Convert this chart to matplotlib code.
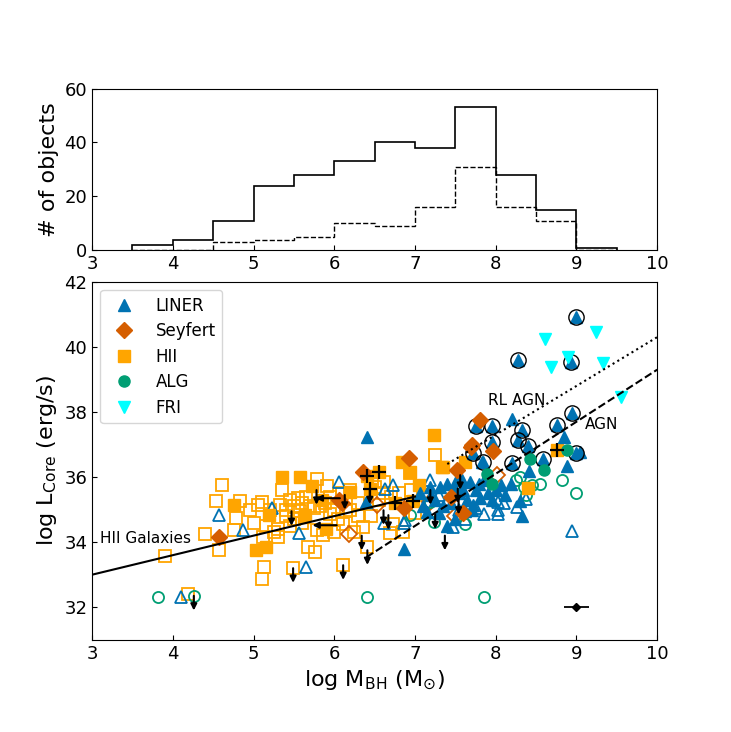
import numpy as np
import matplotlib
matplotlib.use("Agg")
import matplotlib.pyplot as plt

# histogram of black hole masses
bin_edges = [3.5, 4.0, 4.5, 5.0, 5.5, 6.0, 6.5, 7.0, 7.5, 8.0, 8.5, 9.0, 9.5]
n_all = [2, 4, 11, 24, 28, 33, 40, 38, 53, 28, 15, 1]
n_sub = [0, 0, 3, 4, 5, 10, 9, 16, 31, 16, 11, 0]

# LINER
liner_fx = [6.40, 6.86, 6.39, 7.19, 7.31, 7.40, 7.06, 7.15, 7.58, 7.83, 7.79, 8.20, 8.85, 9.05,
            8.88, 8.41, 8.19, 8.06, 8.32, 7.45, 7.55, 7.65, 7.70, 7.35, 7.50, 7.60, 7.25, 7.90,
            7.95, 8.00, 7.75, 7.85, 7.40, 7.10, 7.30, 7.68, 7.52, 8.12, 8.30, 7.48, 7.62, 7.80,
            7.20, 7.72]
liner_fy = [37.24, 33.80, 35.24, 35.70, 35.70, 34.49, 35.50, 34.93, 35.90, 36.47, 35.80, 37.77, 37.24, 36.78,
            36.35, 36.20, 35.80, 35.75, 34.80, 35.20, 35.50, 35.30, 35.00, 35.10, 34.70, 35.60, 35.30, 35.50,
            35.30, 35.60, 35.60, 35.90, 35.80, 35.10, 34.90, 35.85, 35.95, 35.45, 35.25, 35.65, 34.95, 35.35,
            35.45, 35.15]
liner_ox = [4.57, 4.87, 5.23, 5.56, 5.65, 4.10, 6.06, 6.63, 6.73, 6.88, 7.19, 7.54, 8.03, 8.94,
            8.03, 8.10, 8.03, 8.26, 8.37, 6.61, 6.86, 7.47, 7.62, 7.75, 7.85, 7.30]
liner_oy = [34.83, 34.37, 35.04, 34.27, 33.24, 32.32, 35.85, 35.62, 35.75, 34.68, 35.90, 34.98, 35.00, 34.34,
            35.24, 35.20, 34.88, 35.09, 35.34, 34.58, 34.58, 34.47, 34.70, 35.05, 34.85, 35.45]
# radio loud LINERs marked with a black circle
rl_x = [8.99, 8.27, 8.93, 7.75, 7.95, 8.94, 8.76, 8.32, 8.28, 8.40, 7.96, 7.72, 7.84, 8.20, 8.58, 8.99]
rl_y = [40.93, 39.60, 39.55, 37.57, 37.57, 37.96, 37.59, 37.45, 37.14, 36.95, 37.09, 36.73, 36.45, 36.42, 36.56, 36.73]

# Seyfert
sey_fx = [4.57, 6.06, 6.92, 6.35, 6.09, 6.86, 7.52, 7.70, 7.81, 7.44, 7.59, 7.97, 7.69]
sey_fy = [34.16, 35.29, 36.60, 36.16, 35.21, 35.04, 36.22, 36.98, 37.75, 35.39, 34.90, 36.80, 36.93]
sey_ox = [6.18, 7.49, 7.19, 6.53, 8.01]
sey_oy = [34.25, 34.79, 35.24, 35.14, 36.06]

# HII
hii_fx = [4.76, 5.35, 5.57, 5.19, 5.03, 5.16, 5.64, 5.72, 5.62, 5.90, 7.23, 6.84, 7.33, 6.94,
          7.62, 8.76, 8.40, 7.35, 6.40, 6.55, 6.44, 6.75, 6.97, 5.85, 6.20, 7.05]
hii_fy = [35.14, 36.01, 36.01, 34.83, 33.75, 33.86, 34.83, 35.72, 34.78, 34.40, 37.29, 36.47, 36.30, 36.16,
          36.47, 36.83, 35.66, 36.32, 36.03, 36.16, 35.62, 35.21, 35.27, 35.30, 35.55, 35.75]
hii_ox = [4.61, 4.54, 4.83, 4.78, 4.40, 4.76, 4.57, 3.90, 4.19, 5.12, 5.13, 5.11, 5.05, 5.11,
          5.33, 5.30, 5.30, 5.49, 5.68, 5.76, 5.78, 5.91, 5.89, 5.78, 5.86, 5.40, 5.45, 5.50,
          5.55, 5.60, 5.65, 5.70, 5.50, 5.45, 5.40, 5.60, 5.20, 5.15, 5.25, 6.94, 6.61, 6.73,
          6.36, 6.11, 6.40, 6.69, 6.11, 6.50, 6.60, 6.70, 6.55, 7.25, 6.00, 6.20, 6.30, 6.00,
          6.25, 6.45, 6.80, 6.95, 6.20, 6.10, 5.95, 4.95, 5.00, 5.95, 6.05, 6.30, 6.85, 7.00,
          7.15, 5.35, 5.75, 5.58, 5.82, 6.15]
hii_oy = [35.75, 35.27, 35.27, 34.75, 34.25, 34.37, 33.75, 33.57, 32.42, 34.16, 33.24, 32.88, 35.14, 35.24,
          35.14, 34.16, 34.40, 33.20, 33.86, 33.70, 35.94, 35.72, 35.20, 34.37, 34.22, 35.00, 35.30, 35.10,
          35.35, 35.20, 35.40, 35.10, 34.70, 34.50, 34.80, 34.60, 35.00, 34.50, 34.30, 36.11, 35.86, 34.57,
          34.47, 34.57, 33.86, 34.27, 33.29, 35.70, 35.50, 35.40, 35.30, 36.68, 35.00, 35.00, 34.80, 34.30,
          34.30, 34.80, 35.50, 35.60, 35.60, 35.50, 35.40, 35.00, 34.60, 34.85, 34.70, 35.20, 34.30, 34.90,
          35.45, 35.60, 35.05, 34.95, 35.10, 34.95]

# ALG
alg_fx = [7.89, 8.88, 8.43, 8.60, 7.96]
alg_fy = [36.10, 36.83, 36.55, 36.22, 35.78]
alg_ox = [3.82, 4.26, 6.40, 7.85, 6.94, 7.18, 7.23, 7.62, 8.82, 9.00, 8.25, 8.35, 8.45, 8.55, 8.38, 8.30]
alg_oy = [32.32, 32.35, 32.32, 32.30, 34.83, 35.24, 34.62, 34.55, 35.90, 35.50, 35.90, 35.70, 35.75, 35.80, 35.45, 36.00]

# FRI
fri_x = [8.61, 9.24, 8.68, 8.90, 9.33, 9.55]
fri_y = [40.24, 40.47, 39.39, 39.70, 39.50, 38.45]

# upper limits
up_x = [5.47, 5.78, 5.49, 4.26, 6.13, 6.44, 6.61, 6.67, 6.34, 6.41, 6.11, 7.19, 7.37, 7.25, 7.53, 7.54, 7.56]
up_y = [34.95, 35.60, 33.20, 32.35, 35.45, 35.62, 34.98, 34.83, 34.20, 33.75, 33.29, 35.60, 34.20, 34.85, 35.65, 35.30, 36.06]
left_x = [6.07, 6.03]
left_y = [35.35, 34.52]
plus_x = [6.40, 6.55, 6.44, 6.75, 6.97, 8.76]
plus_y = [36.03, 36.16, 35.62, 35.21, 35.27, 36.83]

c_liner = '#0072B2'
c_sey = '#D55E00'
c_hii = '#FFA500'
c_alg = '#009E73'
c_fri = '#00FFFF'

fig = plt.figure(figsize=(7.31, 7.32), dpi=100)
ax1 = fig.add_axes([0.126, 0.658, 0.773, 0.221])
ax2 = fig.add_axes([0.126, 0.126, 0.773, 0.489])

ax1.stairs(n_all, bin_edges, color='k', lw=1.2)
ax1.stairs(n_sub, bin_edges, color='k', lw=1.0, ls='--')
ax1.set_xlim(3, 10)
ax1.set_ylim(0, 60)
ax1.set_yticks([0, 20, 40, 60])
ax1.set_ylabel('# of objects', fontsize=16)
ax1.tick_params(direction='in', labelsize=13)

ms = 8
ax2.plot(hii_ox, hii_oy, 's', ms=ms, mfc='none', mec=c_hii, mew=1.3, ls='none')
ax2.plot(liner_ox, liner_oy, '^', ms=ms, mfc='none', mec=c_liner, mew=1.3, ls='none')
ax2.plot(sey_ox, sey_oy, 'D', ms=ms, mfc='none', mec=c_sey, mew=1.3, ls='none')
ax2.plot(alg_ox, alg_oy, 'o', ms=ms, mfc='none', mec=c_alg, mew=1.3, ls='none')
ax2.plot(hii_fx, hii_fy, 's', ms=ms, color=c_hii, ls='none', label='HII')
ax2.plot(liner_fx, liner_fy, '^', ms=ms, color=c_liner, ls='none', label='LINER')
ax2.plot(rl_x, rl_y, '^', ms=ms, color=c_liner, ls='none')
ax2.plot(rl_x, rl_y, 'o', ms=11, mfc='none', mec='k', mew=1.0, ls='none')
ax2.plot(sey_fx, sey_fy, 'D', ms=ms, color=c_sey, ls='none', label='Seyfert')
ax2.plot(alg_fx, alg_fy, 'o', ms=ms, color=c_alg, ls='none', label='ALG')
ax2.plot(fri_x, fri_y, 'v', ms=ms + 1, color=c_fri, ls='none', label='FRI')
ax2.plot(plus_x, plus_y, '+', ms=10, mew=1.6, color='k', ls='none')

for x, y in zip(up_x, up_y):
    ax2.annotate('', xy=(x, y - 0.45), xytext=(x, y),
                 arrowprops=dict(arrowstyle='-|>', color='k', lw=1.5, mutation_scale=9,
                                 shrinkA=0, shrinkB=0))
for x, y in zip(left_x, left_y):
    ax2.annotate('', xy=(x - 0.3, y), xytext=(x, y),
                 arrowprops=dict(arrowstyle='-|>', color='k', lw=1.5, mutation_scale=9,
                                 shrinkA=0, shrinkB=0))

# typical error
ax2.errorbar([9.0], [32.0], xerr=[0.15], fmt='D', ms=4, color='k', lw=1.3)

# relations
xh = np.array([3.0, 7.0])
ax2.plot(xh, 0.6 * xh + 31.2, 'k-', lw=1.5)
xa = np.array([6.4, 10.0])
ax2.plot(xa, 1.6 * xa + 23.3, 'k--', lw=1.5)
xr = np.array([7.4, 10.0])
ax2.plot(xr, 1.5 * xr + 25.3, 'k:', lw=1.5)

ax2.text(3.1, 34.1, 'HII Galaxies', fontsize=11, va='center')
ax2.text(7.9, 38.35, 'RL AGN', fontsize=11, va='center')
ax2.text(9.1, 37.6, 'AGN', fontsize=11, va='center')

ax2.set_xlim(3, 10)
ax2.set_ylim(31, 42)
ax2.set_yticks([32, 34, 36, 38, 40, 42])
ax2.tick_params(direction='in', labelsize=13)
ax2.set_xlabel(r'log M$_{\rm BH}$ (M$_{\odot}$)', fontsize=16)
ax2.set_ylabel(r'log L$_{\rm Core}$ (erg/s)', fontsize=16)

handles, labels = ax2.get_legend_handles_labels()
order = ['LINER', 'Seyfert', 'HII', 'ALG', 'FRI']
hmap = dict(zip(labels, handles))
ax2.legend([hmap[k] for k in order], order, loc='upper left', fontsize=12,
           labelspacing=0.45, handletextpad=0.9, borderpad=0.4)

fig.savefig('out.png', dpi=100)
